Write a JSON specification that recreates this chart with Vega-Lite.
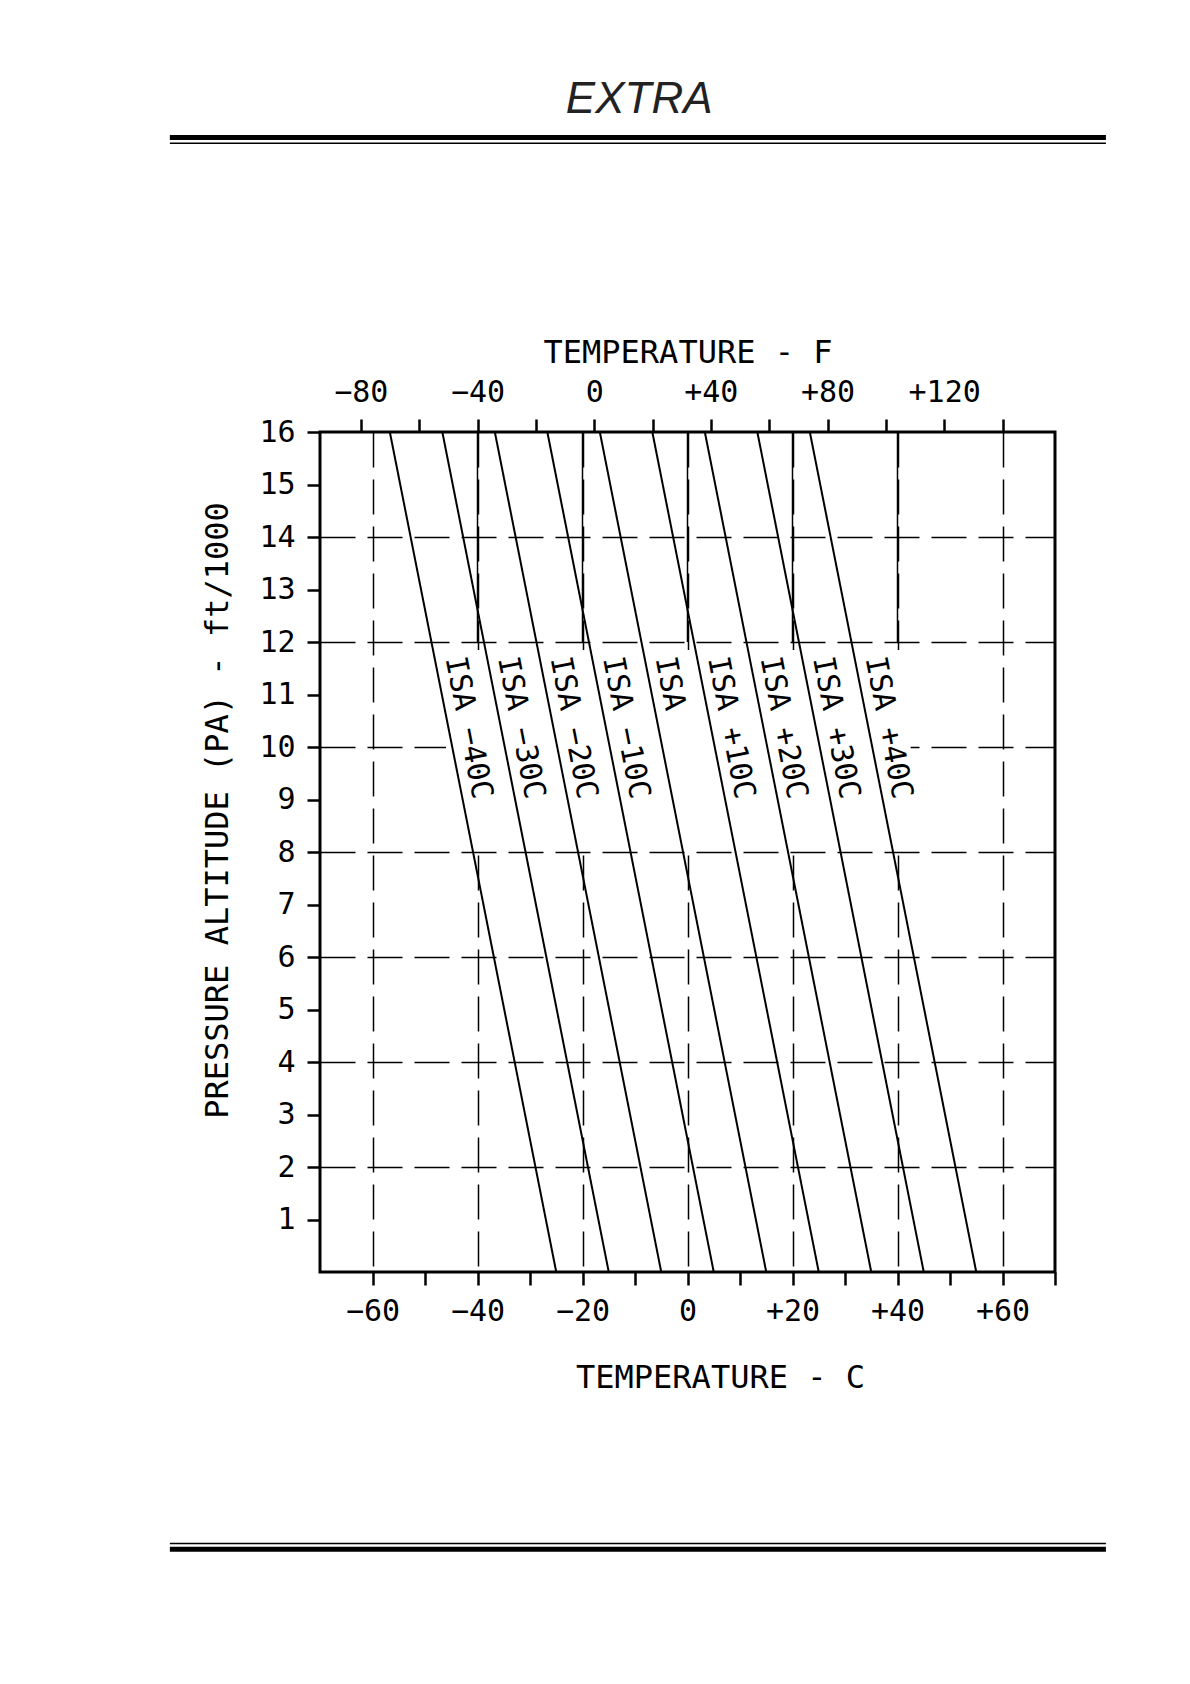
{
  "$schema": "https://vega.github.io/schema/vega-lite/v6.json",
  "width": 735,
  "height": 840,
  "autosize": {"type": "none"},
  "padding": {"left": 320, "top": 432, "right": 135, "bottom": 412},
  "background": "white",
  "config": {
    "view": {"stroke": "black", "strokeWidth": 3},
    "axis": {
      "labelFont": "DejaVu Sans Mono",
      "labelFontSize": 30,
      "labelColor": "black",
      "titleFont": "DejaVu Sans Mono",
      "titleFontSize": 32,
      "titleFontWeight": "normal",
      "titleColor": "black",
      "tickColor": "black",
      "tickWidth": 2.5,
      "tickSize": 13,
      "domain": false,
      "labelFlush": false,
      "labelOverlap": false,
      "gridColor": "black",
      "gridWidth": 1.5,
      "gridDash": [35, 12]
    }
  },
  "datasets": {
    "isa": [
      {"dev": "ISA -40C", "alt": 0, "c": -25}, {"dev": "ISA -40C", "alt": 16, "c": -56.7},
      {"dev": "ISA -30C", "alt": 0, "c": -15}, {"dev": "ISA -30C", "alt": 16, "c": -46.7},
      {"dev": "ISA -20C", "alt": 0, "c": -5}, {"dev": "ISA -20C", "alt": 16, "c": -36.7},
      {"dev": "ISA -10C", "alt": 0, "c": 5}, {"dev": "ISA -10C", "alt": 16, "c": -26.7},
      {"dev": "ISA", "alt": 0, "c": 15}, {"dev": "ISA", "alt": 16, "c": -16.7},
      {"dev": "ISA +10C", "alt": 0, "c": 25}, {"dev": "ISA +10C", "alt": 16, "c": -6.7},
      {"dev": "ISA +20C", "alt": 0, "c": 35}, {"dev": "ISA +20C", "alt": 16, "c": 3.3},
      {"dev": "ISA +30C", "alt": 0, "c": 45}, {"dev": "ISA +30C", "alt": 16, "c": 13.3},
      {"dev": "ISA +40C", "alt": 0, "c": 55}, {"dev": "ISA +40C", "alt": 16, "c": 23.3}
    ],
    "labels": [
      {"label": "ISA −40C", "alt": 11.72, "c": -44.4},
      {"label": "ISA −30C", "alt": 11.72, "c": -34.4},
      {"label": "ISA −20C", "alt": 11.72, "c": -24.4},
      {"label": "ISA −10C", "alt": 11.72, "c": -14.4},
      {"label": "ISA", "alt": 11.72, "c": -4.4},
      {"label": "ISA +10C", "alt": 11.72, "c": 5.6},
      {"label": "ISA +20C", "alt": 11.72, "c": 15.6},
      {"label": "ISA +30C", "alt": 11.72, "c": 25.6},
      {"label": "ISA +40C", "alt": 11.72, "c": 35.6}
    ]
  },
  "layer": [
    {
      "layer": [
        {
          "data": {"values": [{}]},
          "mark": {"type": "rect", "fill": "white", "stroke": null},
          "encoding": {
            "x": {"datum": -46, "type": "quantitative"},
            "x2": {"datum": 42.5},
            "y": {"datum": 8.15, "type": "quantitative"},
            "y2": {"datum": 11.85}
          }
        },
        {
          "data": {"name": "isa"},
          "mark": {"type": "line", "stroke": "black", "strokeWidth": 2},
          "encoding": {
            "x": {
              "field": "c", "type": "quantitative",
              "scale": {"domain": [-70, 70], "nice": false, "zero": false},
              "axis": {
                "orient": "bottom",
                "values": [-60, -50, -40, -30, -20, -10, 0, 10, 20, 30, 40, 50, 60, 70],
                "title": "TEMPERATURE - C",
                "titleX": 400, "titleY": 105, "titleBaseline": "middle", "titleAlign": "center",
                "labelExpr": "datum.value % 20 != 0 ? '' : (datum.value > 0 ? '+' + datum.value : (datum.value < 0 ? '−' + abs(datum.value) : '0'))",
                "labelBaseline": "middle",
                "labelPadding": 26,
                "grid": true,
                "gridOpacity": {"condition": {"test": "datum.value % 20 == 0 && abs(datum.value) < 70", "value": 1}, "value": 0},
                "encode": {"ticks": {"update": {"y": {"value": -13}}}}
              }
            },
            "y": {
              "field": "alt", "type": "quantitative",
              "scale": {"domain": [0, 16], "nice": false, "zero": false},
              "axis": {
                "orient": "left",
                "values": [1, 2, 3, 4, 5, 6, 7, 8, 9, 10, 11, 12, 13, 14, 15, 16],
                "title": "PRESSURE ALTITUDE (PA) - ft/1000",
                "titleX": -103, "titleY": 378, "titleAngle": -90, "titleBaseline": "middle", "titleAlign": "center",
                "labelPadding": 12,
                "grid": true,
                "gridOpacity": {"condition": {"test": "datum.value % 2 == 0 && datum.value < 16", "value": 1}, "value": 0},
                "encode": {"ticks": {"update": {"x": {"value": 13}}}}
              }
            },
            "detail": {"field": "dev"}
          }
        },
        {
          "data": {"name": "labels"},
          "mark": {"type": "text", "angle": 79, "align": "left", "baseline": "middle", "font": "DejaVu Sans Mono", "fontSize": 30, "color": "black"},
          "encoding": {
            "x": {"field": "c", "type": "quantitative"},
            "y": {"field": "alt", "type": "quantitative"},
            "text": {"field": "label"}
          }
        },
        {
          "data": {"values": [{"c": -40}, {"c": -20}, {"c": 0}, {"c": 20}, {"c": 40}]},
          "mark": {"type": "rule", "stroke": "black", "strokeWidth": 1.5},
          "encoding": {
            "x": {"field": "c", "type": "quantitative"},
            "y": {"datum": 12, "type": "quantitative"},
            "y2": {"datum": 16}
          }
        },
        {
          "data": {"values": [{}]},
          "mark": {"type": "rule", "stroke": "black", "strokeWidth": 5, "clip": false},
          "encoding": {
            "x": {"datum": -98.6, "type": "quantitative"},
            "x2": {"datum": 79.7},
            "y": {"datum": 21.61, "type": "quantitative"}
          }
        },
        {
          "data": {"values": [{}]},
          "mark": {"type": "rule", "stroke": "black", "strokeWidth": 1.5, "clip": false},
          "encoding": {
            "x": {"datum": -98.6, "type": "quantitative"},
            "x2": {"datum": 79.7},
            "y": {"datum": 21.5, "type": "quantitative"}
          }
        },
        {
          "data": {"values": [{}]},
          "mark": {"type": "rule", "stroke": "black", "strokeWidth": 1.5, "clip": false},
          "encoding": {
            "x": {"datum": -98.6, "type": "quantitative"},
            "x2": {"datum": 79.7},
            "y": {"datum": -5.17, "type": "quantitative"}
          }
        },
        {
          "data": {"values": [{}]},
          "mark": {"type": "rule", "stroke": "black", "strokeWidth": 5, "clip": false},
          "encoding": {
            "x": {"datum": -98.6, "type": "quantitative"},
            "x2": {"datum": 79.7},
            "y": {"datum": -5.28, "type": "quantitative"}
          }
        },
        {
          "data": {"values": [{}]},
          "mark": {"type": "text", "text": "EXTRA", "font": "Liberation Sans Narrow, Liberation Sans, sans-serif", "fontStyle": "italic", "fontSize": 44, "align": "center", "baseline": "middle", "color": "#222"},
          "encoding": {
            "x": {"datum": -9.2, "type": "quantitative"},
            "y": {"datum": 22.32, "type": "quantitative"}
          }
        }
      ]
    },
    {
      "data": {"values": [{"f": -80}, {"f": 140}]},
      "mark": {"type": "point", "opacity": 0},
      "encoding": {
        "x": {
          "field": "f", "type": "quantitative",
          "scale": {"domain": [-94, 158], "nice": false, "zero": false},
          "axis": {
            "orient": "top",
            "values": [-80, -60, -40, -20, 0, 20, 40, 60, 80, 100, 120, 140],
            "title": "TEMPERATURE - F",
            "titleX": 367.5, "titleY": -80, "titleBaseline": "middle", "titleAlign": "center",
            "labelExpr": "datum.value % 40 != 0 ? '' : (datum.value > 0 ? '+' + datum.value : (datum.value < 0 ? '−' + abs(datum.value) : '0'))",
            "labelBaseline": "middle",
            "labelPadding": 27,
            "grid": false,
            "encode": {"ticks": {"update": {"y": {"value": 13}}}}
          }
        }
      }
    }
  ],
  "resolve": {"scale": {"x": "independent"}}
}
